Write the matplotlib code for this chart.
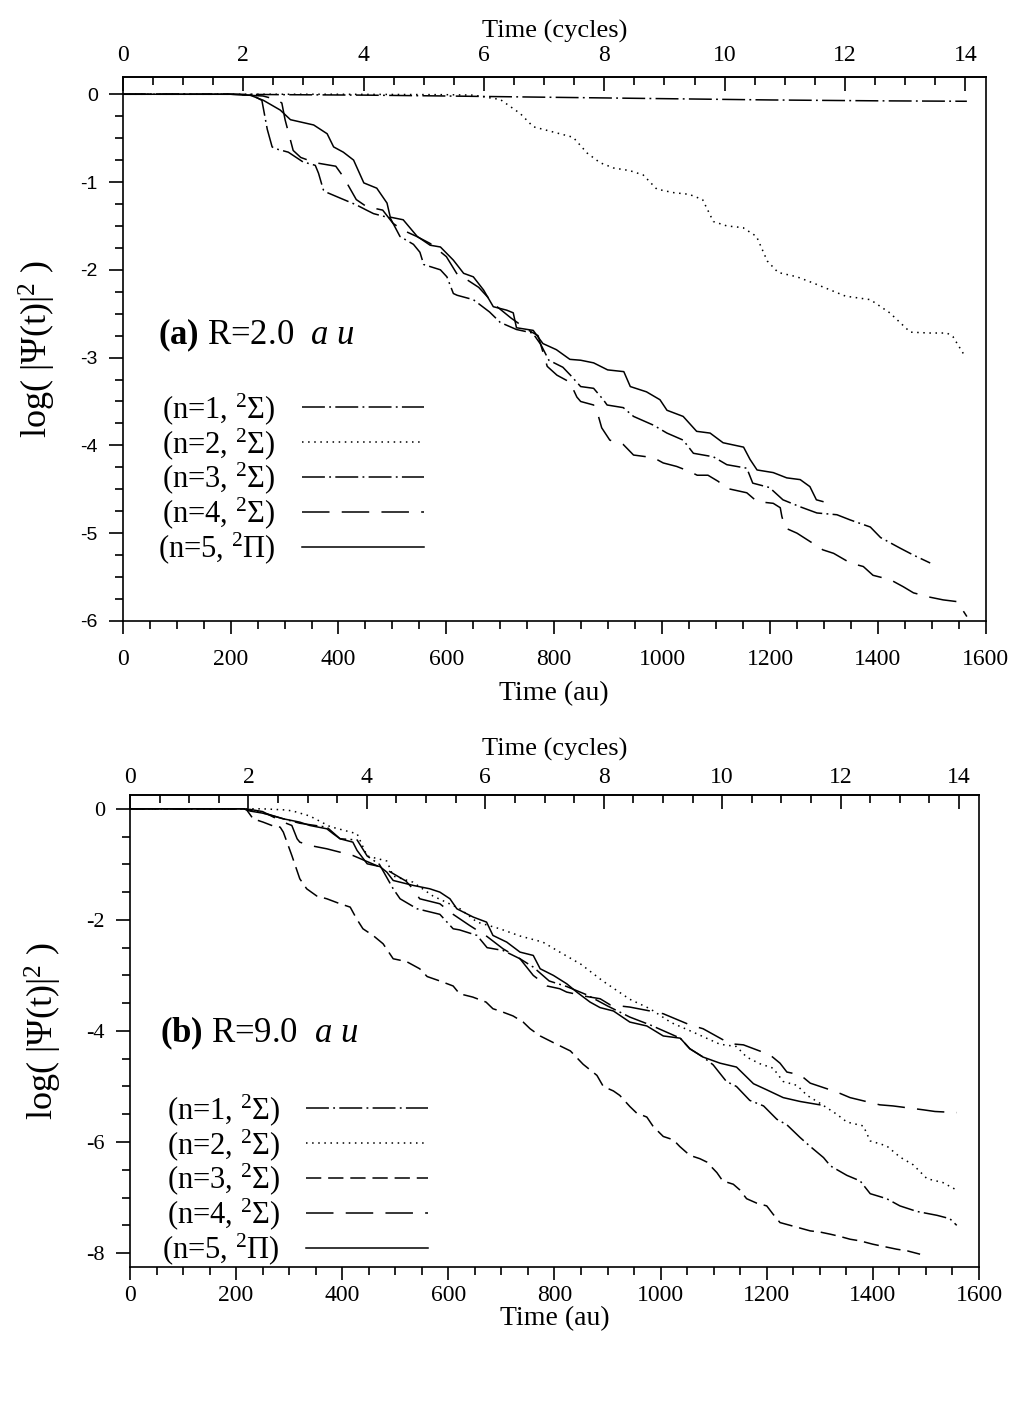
import matplotlib
matplotlib.use("Agg")
import matplotlib.pyplot as plt
from matplotlib.ticker import MultipleLocator, FixedLocator

plt.rcParams['font.family'] = ['Liberation Serif', 'DejaVu Serif']
plt.rcParams['mathtext.fontset'] = 'custom'
plt.rcParams['mathtext.rm'] = 'Liberation Serif'
plt.rcParams['mathtext.it'] = 'Liberation Serif:italic'
plt.rcParams['mathtext.bf'] = 'Liberation Serif:bold'
plt.rcParams['axes.unicode_minus'] = False

AU_PER_CYCLE = 111.6

# ---- panel (a): R = 2.0 au ----
a1_t = [0, 200, 300, 450, 600, 800, 1000, 1200, 1400, 1565]
a1_y = [0, 0, -0.005, -0.01, -0.02, -0.035, -0.05, -0.065, -0.075, -0.08]

a2_t = [0, 200, 400, 600, 650, 700, 737, 761, 798, 835, 861, 885, 910, 940, 965, 990,
        1020, 1050, 1075, 1095, 1120, 1150, 1175, 1195, 1215, 1250, 1280, 1300, 1340,
        1386, 1422, 1441, 1460, 1495, 1528, 1539, 1562]
a2_y = [0, 0, 0, -0.005, -0.01, -0.06, -0.22, -0.37, -0.43, -0.49, -0.67, -0.78, -0.84,
        -0.87, -0.92, -1.08, -1.12, -1.14, -1.2, -1.45, -1.5, -1.52, -1.62, -1.9, -2.03,
        -2.08, -2.15, -2.2, -2.3, -2.34, -2.49, -2.6, -2.71, -2.72, -2.72, -2.76, -2.99]

a3_t = [0, 200, 240, 258, 268, 277, 283, 307, 334, 357, 363, 372, 379, 402, 433, 452, 465,
        496, 514, 539, 551, 558, 589, 601, 613, 620, 650, 680, 700, 730, 760, 775, 790, 816,
        830, 849, 873, 891, 898, 928, 947, 984, 1009, 1039, 1058, 1095, 1120, 1157, 1168,
        1199, 1224, 1256, 1287, 1324, 1349, 1386, 1405, 1441, 1466, 1497]
a3_y = [0, 0, -0.01, -0.07, -0.4, -0.6, -0.62, -0.66, -0.77, -0.81, -0.9, -1.09, -1.12,
        -1.18, -1.26, -1.32, -1.36, -1.41, -1.62, -1.71, -1.8, -1.94, -2.0, -2.08, -2.27,
        -2.29, -2.34, -2.48, -2.6, -2.68, -2.72, -2.85, -3.03, -3.11, -3.2, -3.33, -3.35,
        -3.48, -3.54, -3.57, -3.67, -3.77, -3.86, -3.94, -4.09, -4.13, -4.22, -4.26, -4.43,
        -4.48, -4.62, -4.7, -4.77, -4.79, -4.85, -4.93, -5.05, -5.17, -5.25, -5.34]

a4_t = [0, 200, 260, 285, 295, 301, 316, 330, 357, 395, 409, 433, 452, 482, 501, 520, 545,
        570, 600, 620, 640, 660, 690, 720, 750, 770, 787, 805, 829, 842, 849, 873, 882, 888,
        903, 928, 947, 984, 1002, 1027, 1052, 1065, 1085, 1104, 1120, 1157, 1176, 1206,
        1219, 1222, 1228, 1250, 1278, 1298, 1318, 1349, 1373, 1391, 1423, 1447, 1466, 1497,
        1521, 1547, 1565]
a4_y = [0, 0, -0.02, -0.06, -0.1, -0.29, -0.64, -0.72, -0.78, -0.82, -0.94, -1.2, -1.28,
        -1.32, -1.47, -1.55, -1.62, -1.7, -1.85, -2.05, -2.12, -2.2, -2.4, -2.55, -2.68,
        -2.75, -3.1, -3.2, -3.28, -3.45, -3.5, -3.54, -3.67, -3.8, -3.94, -3.99, -4.11,
        -4.14, -4.2, -4.24, -4.3, -4.34, -4.34, -4.41, -4.49, -4.54, -4.64, -4.66, -4.71,
        -4.81, -4.94, -5.0, -5.11, -5.19, -5.23, -5.34, -5.38, -5.48, -5.53, -5.61, -5.68,
        -5.73, -5.76, -5.78, -5.95]

a5_t = [0, 200, 236, 261, 292, 311, 354, 379, 391, 409, 428, 447, 471, 490, 496, 520, 546,
        570, 589, 613, 632, 650, 669, 687, 712, 724, 730, 761, 779, 804, 829, 849, 873, 899,
        929, 941, 971, 996, 1009, 1039, 1064, 1089, 1113, 1151, 1163, 1176, 1206, 1231,
        1256, 1274, 1286, 1298]
a5_y = [0, 0, -0.01, -0.07, -0.18, -0.29, -0.35, -0.45, -0.6, -0.66, -0.75, -1.01, -1.07,
        -1.24, -1.4, -1.43, -1.62, -1.72, -1.74, -1.89, -2.04, -2.08, -2.23, -2.42, -2.46,
        -2.49, -2.66, -2.69, -2.84, -2.91, -3.02, -3.03, -3.06, -3.14, -3.16, -3.33, -3.39,
        -3.48, -3.6, -3.67, -3.84, -3.86, -3.97, -4.02, -4.16, -4.28, -4.31, -4.37, -4.39,
        -4.47, -4.62, -4.64]

# ---- panel (b): R = 9.0 au ----
b1_t = [0, 200, 215, 240, 289, 320, 371, 396, 428, 447, 470, 496, 509, 541, 584, 609, 621,
        654, 673, 703, 735, 760, 790, 823, 861, 900, 942, 980, 1037, 1055, 1080, 1099, 1124,
        1143, 1168, 1194, 1219, 1238, 1263, 1282, 1307, 1320, 1351, 1376, 1395, 1426, 1451,
        1483, 1521, 1545, 1558]
b1_y = [0, 0, 0, -0.05, -0.18, -0.26, -0.33, -0.54, -0.56, -0.85, -1.0, -1.44, -1.62, -1.8,
        -1.9, -2.16, -2.18, -2.28, -2.5, -2.55, -2.7, -2.85, -3.1, -3.2, -3.35, -3.55, -3.75,
        -3.89, -4.13, -4.32, -4.47, -4.61, -4.91, -5.0, -5.25, -5.35, -5.59, -5.69, -5.92,
        -6.08, -6.28, -6.43, -6.6, -6.7, -6.93, -7.02, -7.15, -7.25, -7.32, -7.38, -7.5]

b2_t = [0, 200, 250, 293, 307, 339, 377, 428, 447, 484, 496, 533, 571, 622, 654, 697, 735,
        778, 810, 850, 891, 942, 980, 1020, 1061, 1112, 1143, 1162, 1187, 1212, 1231, 1257,
        1276, 1300, 1332, 1351, 1382, 1395, 1426, 1451, 1476, 1502, 1532, 1555]
b2_y = [0, 0, 0, -0.02, -0.04, -0.13, -0.32, -0.45, -0.85, -0.94, -1.21, -1.32, -1.57,
        -1.8, -2.04, -2.16, -2.29, -2.4, -2.58, -2.8, -3.1, -3.43, -3.6, -3.85, -4.02,
        -4.24, -4.28, -4.47, -4.59, -4.67, -4.91, -4.98, -5.16, -5.3, -5.5, -5.64, -5.71,
        -5.98, -6.07, -6.27, -6.41, -6.66, -6.73, -6.85]

b3_t = [0, 200, 215, 220, 232, 251, 270, 283, 289, 305, 320, 333, 352, 371, 396, 415, 427,
        439, 458, 477, 496, 521, 546, 560, 584, 609, 621, 646, 671, 684, 697, 722, 741, 754,
        773, 800, 830, 854, 880, 892, 911, 923, 942, 955, 974, 986, 1005, 1024, 1036, 1055,
        1074, 1087, 1106, 1117, 1137, 1149, 1162, 1181, 1200, 1212, 1225, 1244, 1263, 1282,
        1300, 1320, 1338, 1357, 1376, 1400, 1420, 1445, 1465, 1489]
b3_y = [0, 0, 0, -0.02, -0.18, -0.24, -0.31, -0.33, -0.42, -0.84, -1.26, -1.44, -1.57,
        -1.62, -1.71, -1.77, -1.98, -2.16, -2.28, -2.43, -2.7, -2.75, -2.88, -3.02, -3.1,
        -3.19, -3.33, -3.39, -3.48, -3.6, -3.64, -3.73, -3.84, -3.96, -4.09, -4.22, -4.36,
        -4.6, -4.8, -5.0, -5.08, -5.16, -5.36, -5.48, -5.55, -5.72, -5.9, -5.96, -6.08,
        -6.24, -6.3, -6.36, -6.55, -6.7, -6.76, -6.86, -7.02, -7.1, -7.15, -7.3, -7.45,
        -7.5, -7.55, -7.6, -7.62, -7.66, -7.7, -7.75, -7.78, -7.84, -7.88, -7.93, -7.96,
        -8.02]

b4_t = [0, 200, 220, 250, 289, 305, 315, 320, 339, 371, 420, 447, 484, 520, 533, 546, 584,
        609, 640, 673, 703, 735, 760, 786, 810, 823, 861, 886, 905, 942, 980, 1005, 1055,
        1080, 1131, 1156, 1206, 1225, 1238, 1263, 1282, 1332, 1357, 1413, 1438, 1495, 1517,
        1558]
b4_y = [0, 0, 0, -0.05, -0.24, -0.3, -0.54, -0.6, -0.66, -0.72, -0.84, -0.95, -1.1, -1.3,
        -1.44, -1.62, -1.71, -1.9, -2.1, -2.3, -2.52, -2.7, -3.0, -3.19, -3.24, -3.3, -3.38,
        -3.42, -3.53, -3.57, -3.64, -3.69, -3.89, -3.96, -4.23, -4.25, -4.43, -4.58, -4.74,
        -4.79, -4.94, -5.1, -5.2, -5.33, -5.35, -5.42, -5.45, -5.47]

b5_t = [0, 200, 215, 226, 258, 289, 320, 339, 371, 383, 396, 420, 428, 447, 471, 484, 496,
        534, 565, 584, 603, 616, 647, 672, 684, 710, 735, 760, 773, 798, 823, 842, 867, 886,
        911, 942, 974, 1005, 1037, 1055, 1080, 1112, 1143, 1175, 1200, 1231, 1263, 1300]
b5_y = [0, 0, 0, -0.04, -0.09, -0.18, -0.24, -0.3, -0.36, -0.45, -0.54, -0.6, -0.75, -0.99,
        -1.04, -1.14, -1.29, -1.38, -1.44, -1.5, -1.62, -1.8, -1.95, -2.04, -2.28, -2.4,
        -2.58, -2.64, -2.88, -3.0, -3.15, -3.3, -3.48, -3.58, -3.64, -3.84, -3.91, -4.09,
        -4.13, -4.32, -4.47, -4.58, -4.65, -4.95, -5.06, -5.2, -5.27, -5.33]

labels_a = [r"(n=1, $^{2}\Sigma$)", r"(n=2, $^{2}\Sigma$)", r"(n=3, $^{2}\Sigma$)",
            r"(n=4, $^{2}\Sigma$)", r"(n=5, $^{2}\Pi$)"]

DASHDOT = (0, (15, 2.8, 1.2, 2.8))
DOTTED = (0, (1, 3))
DASHED = (0, (10, 4.5))
LONGDASH = (0, (18, 8))

styles_a = [DASHDOT, DOTTED, DASHDOT, LONGDASH, '-']
styles_b = [DASHDOT, DOTTED, DASHED, LONGDASH, '-']


def to_cyc(t):
    return t / AU_PER_CYCLE


def to_au(c):
    return c * AU_PER_CYCLE


def style_axes(ax, ymin, ymax, ymajor, yminor, ysans, xpad, xlabpad, toppad, toplabpad):
    ax.set_xlim(0, 1600)
    ax.set_ylim(ymin, ymax)
    ax.xaxis.set_major_locator(MultipleLocator(200))
    ax.xaxis.set_minor_locator(MultipleLocator(50))
    ax.yaxis.set_major_locator(MultipleLocator(ymajor))
    ax.yaxis.set_minor_locator(MultipleLocator(yminor))
    for s in ax.spines.values():
        s.set_linewidth(1.2)
    ax.tick_params(axis='x', which='major', direction='out', length=9, width=1.2,
                   labelsize=17, pad=xpad, top=False)
    ax.tick_params(axis='x', which='minor', direction='out', length=6, width=1.2, top=False)
    ax.tick_params(axis='y', which='major', direction='out', length=10, width=1.2,
                   labelsize=16 if not ysans else 14, pad=8, right=False)
    ax.tick_params(axis='y', which='minor', direction='out', length=6, width=1.2, right=False)
    if ysans:
        for lab in ax.get_yticklabels():
            lab.set_fontfamily('Liberation Sans')
    ax.set_xlabel("Time (au)", fontsize=20, labelpad=xlabpad)
    ax.set_ylabel(r"log( |$\Psi$(t)|$^{2}$ )", fontsize=26, labelpad=16)

    sec = ax.secondary_xaxis('top', functions=(to_cyc, to_au))
    sec.xaxis.set_major_locator(FixedLocator(list(range(0, 15, 2))))
    sec.xaxis.set_minor_locator(FixedLocator([i * 0.5 for i in range(29)]))
    sec.tick_params(which='major', direction='in', length=10, width=1.2, labelsize=17,
                    pad=toppad)
    sec.tick_params(which='minor', direction='in', length=6, width=1.2)
    sec.spines['top'].set_linewidth(1.2)
    sec.set_xlabel("Time (cycles)", fontsize=19, labelpad=toplabpad)


def add_legend(ax, x, y):
    ax.legend(loc='upper left', bbox_to_anchor=(x, y), frameon=False, markerfirst=False,
              fontsize=22, handlelength=4.0, handletextpad=0.85, labelspacing=-0.03,
              borderaxespad=0, borderpad=0)


fig = plt.figure(figsize=(10.1, 14.02), dpi=100)

ax1 = fig.add_axes([0.1215, 0.5571, 0.8545, 0.3882])
for t, y, ls, lab in zip([a1_t, a2_t, a3_t, a4_t, a5_t], [a1_y, a2_y, a3_y, a4_y, a5_y],
                         styles_a, labels_a):
    ax1.plot(t, y, color='black', lw=1.1, linestyle=ls, label=lab)
style_axes(ax1, -6, 0.2, 1, 0.25, True, xpad=11, xlabpad=8, toppad=8, toplabpad=5)
ax1.text(0.041, 0.525, r"$\mathbf{(a)}$ R=2.0  $\mathit{a\ u}$", transform=ax1.transAxes,
         fontsize=25, va='center', ha='left')
add_legend(ax1, 0.041, 0.4226)

ax2 = fig.add_axes([0.1287, 0.0963, 0.8406, 0.3367])
for t, y, ls, lab in zip([b1_t, b2_t, b3_t, b4_t, b5_t], [b1_y, b2_y, b3_y, b4_y, b5_y],
                         styles_b, labels_a):
    ax2.plot(t, y, color='black', lw=1.1, linestyle=ls, label=lab)
style_axes(ax2, -8.25, 0.25, 2, 0.5, False, xpad=4, xlabpad=0, toppad=5, toplabpad=8)
ax2.text(0.035, 0.496, r"$\mathbf{(b)}$ R=9.0  $\mathit{a\ u}$", transform=ax2.transAxes,
         fontsize=25, va='center', ha='left')
add_legend(ax2, 0.038, 0.3708)

fig.savefig("out.png", dpi=100)
